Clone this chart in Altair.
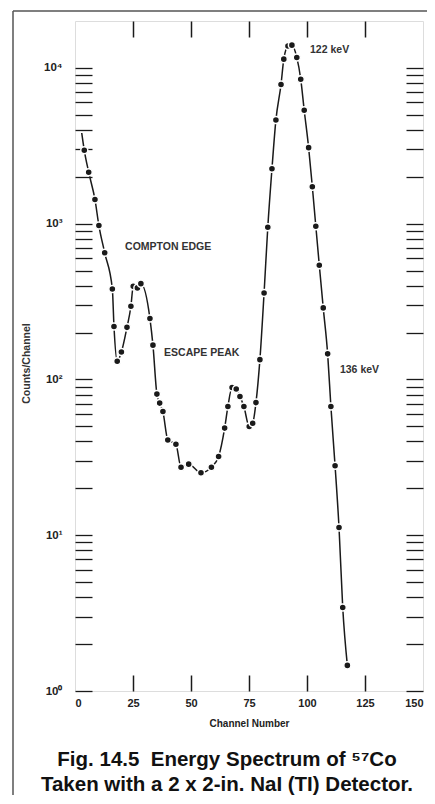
import altair as alt
import pandas as pd

# ---- data ----
channels = [4.0, 5.9, 8.6, 10.3, 12.8, 16.1, 16.8, 18.2, 20.0, 22.4,
            24.1, 25.1, 26.9, 28.4, 32.3, 33.6, 35.3, 36.5, 37.9, 40.0,
            43.5, 45.7, 49.0, 54.3, 58.8, 61.9, 64.5, 65.9, 67.7, 69.5,
            71.1, 72.8, 75.1, 76.6, 78.0, 79.7, 81.5, 83.1, 84.9, 86.6,
            88.8, 90.0, 91.8, 93.5, 95.6, 97.3, 98.8, 100.7, 102.3, 103.8,
            105.3, 107.0, 108.9, 110.3, 112.1, 113.8, 115.4, 117.4]
counts = [2960, 2140, 1430, 973, 650, 381, 219, 131, 150, 216,
          295, 396, 387, 412, 246, 166, 80.5, 70.5, 62.2, 40.9,
          38.4, 27.3, 28.6, 25.2, 27.3, 32, 48.7, 67, 88.8, 86.8,
          77.8, 67, 49.9, 52.4, 71, 134, 359, 949, 2254, 4634,
          7823, 11380, 13830, 14000, 11670, 8460, 5346, 3077, 1727, 963,
          541, 288, 146, 67, 27.9, 11.2, 3.44, 1.46]

# the drawn curve starts a little before the first measured point
curve_start_channel = [2.9]
curve_start_count = [3820]

annot_text = ["122 keV", "COMPTON EDGE", "ESCAPE PEAK", "136 keV"]
annot_channel = [101.3, 21.6, 38.4, 114.2]
annot_count = [13100, 711, 148, 115]

x_label_values = [0, 25, 50, 75, 100, 125, 150]
x_tick_values = [25, 50, 75, 100, 125]
y_label_values = [1, 10, 100, 1000, 10000]
y_tick_values = [m * 10 ** e for e in range(4) for m in range(1, 10)] + [10000]

caption = ["Fig. 14.5\u00a0 Energy Spectrum of \u2075\u2077Co",
           "Taken with a 2 x 2-in. NaI (TI) Detector."]

pts = pd.DataFrame({"channel": channels, "count": counts})
curve = pd.DataFrame({"channel": curve_start_channel + channels,
                      "count": curve_start_count + counts})
ann = pd.DataFrame({"channel": annot_channel, "count": annot_count, "label": annot_text})

W, H = 348, 670
FONT = "Liberation Sans"
INK = "#1a1a1a"

xs = alt.Scale(domain=[0, 150], nice=False, zero=False)
ys = alt.Scale(type="log", domain=[1, 20000], nice=False)

# layer 1: curve, with label axes
line = alt.Chart(curve).mark_line(color=INK, strokeWidth=1.5, interpolate="monotone").encode(
    x=alt.X("channel:Q", scale=xs, axis=alt.Axis(
        orient="bottom", values=x_label_values, ticks=False, domain=False, grid=False,
        labelPadding=6, labelFontSize=11, labelFontWeight="bold", labelColor="#222",
        labelFont=FONT, title="Channel Number", titleFont=FONT, titleFontSize=10,
        titleFontWeight="bold", titleColor="#222", titlePadding=10)),
    y=alt.Y("count:Q", scale=ys, axis=alt.Axis(
        orient="left", values=y_label_values, ticks=False, domain=False, grid=False,
        labelExpr="'10' + ['\u2070','\u00b9','\u00b2','\u00b3','\u2074'][round(log(datum.value)/LN10)]",
        labelPadding=13, labelFontSize=11.5, labelFontWeight="bold", labelColor="#222",
        labelFont=FONT, labelBaseline="middle",
        title="Counts/Channel", titleFont=FONT, titleFontSize=10.5, titleFontWeight="bold",
        titleColor="#333", titlePadding=12, titleY=342)),
)

# layer 2: points, with inward ticks on top and left
points = alt.Chart(pts).mark_circle(size=50, fill=INK, stroke="white", strokeWidth=1.5,
                                    opacity=1).encode(
    x=alt.X("channel:Q", scale=xs, axis=alt.Axis(
        orient="bottom", offset=-H, values=x_tick_values, labels=False, domain=False,
        grid=False, ticks=True, tickSize=16, tickWidth=1.5, tickColor=INK, title="")),
    y=alt.Y("count:Q", scale=ys, axis=alt.Axis(
        orient="right", offset=-W, values=y_tick_values, labels=False, domain=False,
        grid=False, ticks=True, tickSize=17, tickWidth=1.3, tickColor=INK, title="")),
)

# layer 3: annotations, with inward ticks on bottom and right
texts = alt.Chart(ann).mark_text(align="left", baseline="middle", font=FONT, fontSize=10.5,
                                 fontWeight="bold", color="#333").encode(
    x=alt.X("channel:Q", scale=xs, axis=alt.Axis(
        orient="top", offset=-H, values=x_tick_values, labels=False, domain=False,
        grid=False, ticks=True, tickSize=16, tickWidth=1.5, tickColor=INK, title="")),
    y=alt.Y("count:Q", scale=ys, axis=alt.Axis(
        orient="left", offset=-W, values=y_tick_values, labels=False, domain=False,
        grid=False, ticks=True, tickSize=17, tickWidth=1.3, tickColor=INK, title="")),
    text="label:N",
)

# outer figure frame (decorative)
frame_df = pd.DataFrame({"k": [0]})
frame_left = alt.Chart(frame_df).mark_rule(color="#555", strokeWidth=1.5).encode(
    x=alt.value(-62), y=alt.value(-10), y2=alt.value(774))
frame_top = alt.Chart(frame_df).mark_rule(color="#555", strokeWidth=1.5).encode(
    x=alt.value(-62), x2=alt.value(600), y=alt.value(-10))

chart = alt.layer(frame_left, frame_top, line, points, texts).resolve_scale(
    x="shared", y="shared"
).resolve_axis(
    x="independent", y="independent"
).properties(
    width=W, height=H,
    autosize=alt.AutoSizeParams(type="none"),
    padding={"left": 67, "top": 13, "right": 4, "bottom": 104},
    title=alt.TitleParams(text=caption, orient="bottom", anchor="middle", font=FONT,
                          fontSize=20.5, fontWeight="bold", color="#111", lineHeight=25,
                          baseline="alphabetic", dx=-22, offset=-30),
).configure_view(
    stroke=INK, strokeWidth=1.5
).configure(background="white")

chart.save("out.html", embed_options={"renderer": "svg", "actions": False})
